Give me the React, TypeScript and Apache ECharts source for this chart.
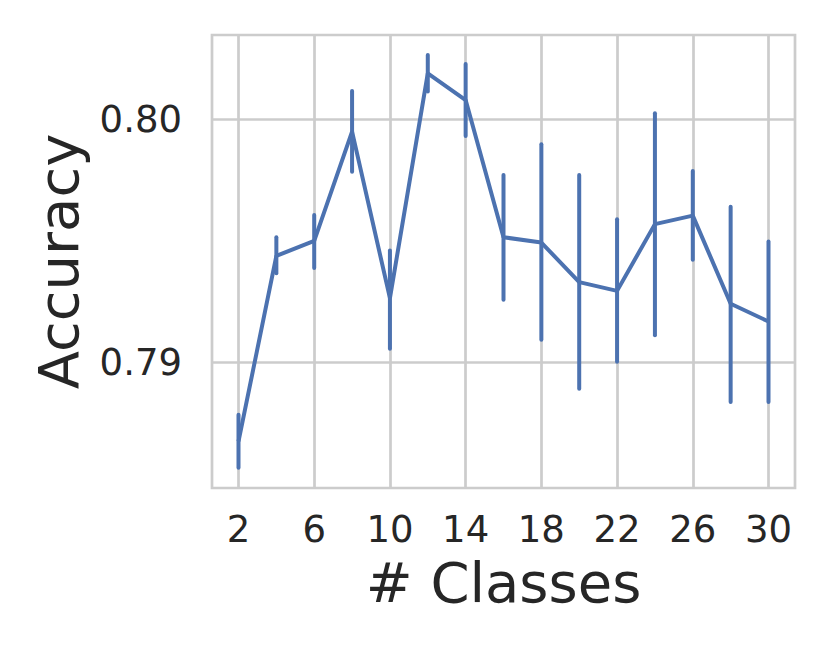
import React, { useEffect, useRef } from "react";
import * as echarts from "echarts";

const classes = [2, 4, 6, 8, 10, 12, 14, 16, 18, 20, 22, 24, 26, 28, 30];
const accuracyMean = [0.78673, 0.79437, 0.79499, 0.79949, 0.79263, 0.80189, 0.80079, 0.79514, 0.79492, 0.79329, 0.79293, 0.79568, 0.79603, 0.7924, 0.79167];
const accuracyLow = [0.78564, 0.79366, 0.79387, 0.79784, 0.79055, 0.80114, 0.79931, 0.79256, 0.79092, 0.7889, 0.79001, 0.7911, 0.79421, 0.78835, 0.78835];
const accuracyHigh = [0.78783, 0.79514, 0.79606, 0.80116, 0.79459, 0.80265, 0.80228, 0.7977, 0.79897, 0.7977, 0.79588, 0.80025, 0.79787, 0.7964, 0.79496];
const xTicks = [2, 6, 10, 14, 18, 22, 26, 30];
const yTicks = [0.79, 0.8];

const BLUE = "#4C72B0";
const GRID = "#cccccc";
const TEXT = "#262626";
const FONT = "DejaVu Sans";

export default function App() {
  const ref = useRef<HTMLDivElement>(null);
  useEffect(() => {
    document.body.style.margin = "0";
    const chart = echarts.init(ref.current!, null, { renderer: "svg" });
    const lineData = classes.map((c, i) => [c, accuracyMean[i]]);
    const errData = classes.map((c, i) => [c, accuracyLow[i], accuracyHigh[i]]);
    chart.setOption({
      animation: false,
      backgroundColor: "#ffffff",
      grid: {
        left: 212,
        top: 35,
        right: 37,
        bottom: 165,
        show: true,
        borderColor: GRID,
        borderWidth: 2.7,
        backgroundColor: "transparent",
      },
      xAxis: {
        type: "value",
        min: 0.6,
        max: 31.4,
        name: "# Classes",
        nameLocation: "middle",
        nameGap: 66,
        nameTextStyle: { fontFamily: FONT, fontSize: 56, color: TEXT },
        axisLine: { show: false },
        axisTick: { show: false, customValues: xTicks },
        axisLabel: {
          customValues: xTicks,
          fontFamily: FONT,
          fontSize: 37,
          color: TEXT,
          margin: 23,
        },
        splitLine: { show: true, lineStyle: { color: GRID, width: 2.7 } },
      },
      yAxis: {
        type: "value",
        min: 0.78481,
        max: 0.80347,
        name: "Accuracy",
        nameLocation: "middle",
        nameRotate: 90,
        nameGap: 126,
        nameTextStyle: { fontFamily: FONT, fontSize: 56, color: TEXT },
        axisLine: { show: false },
        axisTick: { show: false, customValues: yTicks },
        axisLabel: {
          customValues: yTicks,
          fontFamily: FONT,
          fontSize: 37,
          color: TEXT,
          margin: 30,
          formatter: (v: number) => v.toFixed(2),
        },
        splitLine: { show: true, lineStyle: { color: GRID, width: 2.7 } },
      },
      series: [
        {
          type: "line",
          data: lineData,
          symbol: "none",
          lineStyle: { color: BLUE, width: 4 },
          z: 3,
        },
        {
          type: "custom",
          data: errData,
          z: 4,
          renderItem: (params: any, api: any) => {
            const x = api.value(0);
            const p1 = api.coord([x, api.value(1)]);
            const p2 = api.coord([x, api.value(2)]);
            return {
              type: "line",
              shape: { x1: p1[0], y1: p1[1], x2: p2[0], y2: p2[1] },
              style: { stroke: BLUE, lineWidth: 4, lineCap: "round" },
            };
          },
        },
      ],
    });
    return () => chart.dispose();
  }, []);
  return <div ref={ref} style={{ width: 832, height: 653 }} />;
}
